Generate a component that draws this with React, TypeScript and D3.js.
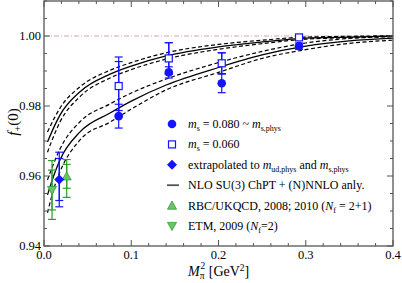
import React from 'react';
import * as d3 from 'd3';

// lattice points (m_s = 0.080 ~ m_s,phys and m_s = 0.060)
const mpi2 = [0.0856, 0.143, 0.2037, 0.2923];
const fCircle = [0.9771, 0.9896, 0.9865, 0.9971];
const errCircle = [0.0034, 0.0016, 0.0027, 0.0009];
const fSquare = [0.9857, 0.9936, 0.9922, 0.9996];
const errSquare = [0.0083, 0.0045, 0.003, 0.0008];
const errSquareStat = [0.007, 0.0045, 0.003, 0.0008];

// extrapolated point and other collaborations
const extrap = { x: 0.0175, y: 0.959, stat: 0.006, lo: 0.0078, hi: 0.0078 };
const rbc = { x: 0.026, y: 0.9599, stat: 0.0034, lo: 0.006, hi: 0.0048 };
const etm = { x: 0.0092, y: 0.956, stat: 0.0057, lo: 0.0084, hi: 0.0084 };

// fit curves
const curveX = [0.004, 0.0126, 0.0183, 0.0413, 0.0757, 0.1, 0.14, 0.2, 0.25, 0.3, 0.35, 0.4];
const upperMid = [0.9697, 0.9746, 0.9774, 0.9841, 0.9891, 0.9914, 0.9943, 0.9969, 0.9983, 0.9994, 0.9997, 1.0];
const upperHi = [0.9726, 0.9769, 0.9794, 0.9855, 0.9902, 0.9924, 0.9952, 0.9976, 0.9988, 0.9997, 0.9999, 1.0001];
const upperLo = [0.9668, 0.9723, 0.9754, 0.9827, 0.988, 0.9904, 0.9934, 0.9962, 0.9978, 0.9991, 0.9995, 0.9999];
const lowerMid = [0.9546, 0.9611, 0.9646, 0.9726, 0.978, 0.9814, 0.986, 0.991, 0.9946, 0.9971, 0.9986, 0.9994];
const lowerHi = [0.9589, 0.9645, 0.9677, 0.9755, 0.9806, 0.9837, 0.9877, 0.9924, 0.9956, 0.998, 0.9993, 0.9998];
const lowerLo = [0.9495, 0.9574, 0.9612, 0.9703, 0.9754, 0.9791, 0.9846, 0.9896, 0.9936, 0.9961, 0.9979, 0.9988];

const xTicks = [0.0, 0.1, 0.2, 0.3, 0.4];
const yTicks = [0.94, 0.96, 0.98, 1.0];

const W = 402;
const H = 283;
const margin = { top: 1, right: 9, bottom: 37, left: 44 };

const BLUE = '#1414ff';
const GREEN = '#2e9e2e';
const GREEN_FILL = '#6cc36c';
const FRAME = '#555';
const FONT = "'Liberation Serif', 'Times New Roman', serif";

export default function App() {
  const x = d3.scaleLinear().domain([0, 0.4]).range([margin.left, W - margin.right]);
  const y = d3.scaleLinear().domain([0.94, 1.01]).range([H - margin.bottom, margin.top]);

  const line = d3
    .line<number>()
    .x((d, i) => x(curveX[i]))
    .y(d => y(d))
    .curve(d3.curveMonotoneX);

  const xMinor = d3.range(0, 0.4001, 0.02);
  const yMinor = d3.range(0.94, 1.0101, 0.005);

  const errBar = (cx: number, lo: number, hi: number, color: string, cap = 4) => (
    <g stroke={color} strokeWidth={1.2}>
      <line x1={x(cx)} x2={x(cx)} y1={y(lo)} y2={y(hi)} />
      <line x1={x(cx) - cap} x2={x(cx) + cap} y1={y(lo)} y2={y(lo)} />
      <line x1={x(cx) - cap} x2={x(cx) + cap} y1={y(hi)} y2={y(hi)} />
    </g>
  );

  const tri = (cx: number, cy: number, s: number, up: boolean) =>
    up
      ? `M${cx},${cy - s}L${cx + s},${cy + s * 0.8}L${cx - s},${cy + s * 0.8}Z`
      : `M${cx},${cy + s}L${cx + s},${cy - s * 0.8}L${cx - s},${cy - s * 0.8}Z`;

  const diamond = (cx: number, cy: number, s: number) =>
    `M${cx},${cy - s}L${cx + s},${cy}L${cx},${cy + s}L${cx - s},${cy}Z`;

  const legendX = 172;
  const textX = 188;
  const rowY = (i: number) => 124 + i * 20.4;

  const x0 = margin.left;
  const x1 = W - margin.right;
  const y0 = H - margin.bottom;
  const y1 = margin.top;

  return (
    <svg width={W} height={H} style={{ position: 'absolute', left: 0, top: 0, fontFamily: FONT }}>
      <rect width={W} height={H} fill="#fff" />

      {/* reference line at 1 */}
      <line x1={x0} x2={x1} y1={y(1)} y2={y(1)} stroke="#d49a9a" strokeWidth={0.9} strokeDasharray="5,2,1,2" />

      {/* fit curves */}
      <g fill="none" stroke="#000">
        <path d={line(upperMid) || ''} strokeWidth={1.3} />
        <path d={line(upperHi) || ''} strokeWidth={1.2} strokeDasharray="4,2.5" />
        <path d={line(upperLo) || ''} strokeWidth={1.2} strokeDasharray="4,2.5" />
        <path d={line(lowerMid) || ''} strokeWidth={1.3} />
        <path d={line(lowerHi) || ''} strokeWidth={1.2} strokeDasharray="4,2.5" />
        <path d={line(lowerLo) || ''} strokeWidth={1.2} strokeDasharray="4,2.5" />
      </g>

      {/* m_s = 0.060 squares */}
      {mpi2.map((m, i) => (
        <g key={'s' + i}>
          {errBar(m, fSquare[i] - errSquare[i], fSquare[i] + errSquare[i], BLUE)}
          {errBar(m, fSquare[i] - errSquareStat[i], fSquare[i] + errSquareStat[i], BLUE)}
          <rect x={x(m) - 3.5} y={y(fSquare[i]) - 3.5} width={7} height={7} fill="#fff" stroke={BLUE} strokeWidth={1.2} />
        </g>
      ))}

      {/* m_s = 0.080 circles */}
      {mpi2.map((m, i) => (
        <g key={'c' + i}>
          {errBar(m, fCircle[i] - errCircle[i], fCircle[i] + errCircle[i], BLUE)}
          <circle cx={x(m)} cy={y(fCircle[i])} r={4.3} fill={BLUE} />
        </g>
      ))}

      {/* ETM */}
      {errBar(etm.x, etm.y - etm.lo, etm.y + etm.hi, GREEN)}
      {errBar(etm.x, etm.y - etm.stat, etm.y + etm.stat, GREEN)}
      <path d={tri(x(etm.x), y(etm.y), 4.5, false)} fill={GREEN_FILL} stroke={GREEN} strokeWidth={0.8} />

      {/* RBC/UKQCD */}
      {errBar(rbc.x, rbc.y - rbc.lo, rbc.y + rbc.hi, GREEN)}
      {errBar(rbc.x, rbc.y - rbc.stat, rbc.y + rbc.stat, GREEN)}
      <path d={tri(x(rbc.x), y(rbc.y), 4.5, true)} fill={GREEN_FILL} stroke={GREEN} strokeWidth={0.8} />

      {/* extrapolated */}
      {errBar(extrap.x, extrap.y - extrap.lo, extrap.y + extrap.hi, BLUE)}
      {errBar(extrap.x, extrap.y - extrap.stat, extrap.y + extrap.stat, BLUE)}
      <path d={diamond(x(extrap.x), y(extrap.y), 5)} fill={BLUE} />

      {/* frame and ticks */}
      <rect x={x0} y={y1} width={x1 - x0} height={y0 - y1} fill="none" stroke={FRAME} strokeWidth={1.3} />
      <g stroke={FRAME} strokeWidth={1}>
        {xMinor.map((t, i) => {
          const len = i % 5 === 0 ? 6 : 3;
          return (
            <g key={'xt' + i}>
              <line x1={x(t)} x2={x(t)} y1={y0} y2={y0 - len} />
              <line x1={x(t)} x2={x(t)} y1={y1} y2={y1 + len} />
            </g>
          );
        })}
        {yMinor.map((t, i) => {
          const len = i % 4 === 0 ? 6 : 3;
          return (
            <g key={'yt' + i}>
              <line x1={x0} x2={x0 + len} y1={y(t)} y2={y(t)} />
              <line x1={x1} x2={x1 - len} y1={y(t)} y2={y(t)} />
            </g>
          );
        })}
      </g>

      {/* tick labels */}
      <g fontSize={12.5} fill="#000">
        {xTicks.map(t => (
          <text key={'xl' + t} x={x(t)} y={y0 + 13} textAnchor="middle">
            {t.toFixed(1)}
          </text>
        ))}
        {yTicks.map(t => (
          <text key={'yl' + t} x={x0 - 3} y={y(t) + 4} textAnchor="end">
            {t.toFixed(2)}
          </text>
        ))}
      </g>

      {/* axis titles */}
      <text x={188} y={276} fontSize={14}>
        <tspan fontStyle="italic">M</tspan>
        <tspan fontSize={9.5} dy={3}>π</tspan>
        <tspan fontSize={9.5} dx={-4} dy={-10}>2</tspan>
        <tspan dy={7}> [GeV</tspan>
        <tspan fontSize={9.5} dy={-5}>2</tspan>
        <tspan dy={5}>]</tspan>
      </text>
      <text transform="translate(18,122) rotate(-90)" textAnchor="middle" fontSize={15}>
        <tspan fontStyle="italic">f</tspan>
        <tspan fontSize={10} dy={3}>+</tspan>
        <tspan dy={-3}>(0)</tspan>
      </text>

      {/* legend */}
      <g fontSize={12} fill="#000">
        <circle cx={legendX} cy={rowY(0)} r={4.3} fill={BLUE} />
        <text x={textX} y={rowY(0) + 4}>
          <tspan fontStyle="italic">m</tspan>
          <tspan fontSize={8} dy={3}>s</tspan>
          <tspan dy={-3}> = 0.080 ~ </tspan>
          <tspan fontStyle="italic">m</tspan>
          <tspan fontSize={8} dy={3}>s,phys</tspan>
        </text>

        <rect x={legendX - 3.5} y={rowY(1) - 3.5} width={7} height={7} fill="#fff" stroke={BLUE} strokeWidth={1.2} />
        <text x={textX} y={rowY(1) + 4}>
          <tspan fontStyle="italic">m</tspan>
          <tspan fontSize={8} dy={3}>s</tspan>
          <tspan dy={-3}> = 0.060</tspan>
        </text>

        <path d={diamond(legendX, rowY(2), 5)} fill={BLUE} />
        <text x={textX} y={rowY(2) + 4}>
          <tspan>extrapolated to </tspan>
          <tspan fontStyle="italic">m</tspan>
          <tspan fontSize={8} dy={3}>ud,phys</tspan>
          <tspan dy={-3}> and </tspan>
          <tspan fontStyle="italic">m</tspan>
          <tspan fontSize={8} dy={3}>s,phys</tspan>
        </text>

        <line x1={legendX - 5} x2={legendX + 7} y1={rowY(3)} y2={rowY(3)} stroke="#555" strokeWidth={1.8} />
        <text x={textX} y={rowY(3) + 4}>NLO SU(3) ChPT +  (N)NNLO anly.</text>

        <path d={tri(legendX, rowY(4), 4.5, true)} fill={GREEN_FILL} stroke={GREEN} strokeWidth={0.8} />
        <text x={textX} y={rowY(4) + 4}>
          <tspan>RBC/UKQCD, 2008; 2010 (</tspan>
          <tspan fontStyle="italic">N</tspan>
          <tspan fontSize={8} dy={3}>f</tspan>
          <tspan dy={-3}> = 2+1)</tspan>
        </text>

        <path d={tri(legendX, rowY(5), 4.5, false)} fill={GREEN_FILL} stroke={GREEN} strokeWidth={0.8} />
        <text x={textX} y={rowY(5) + 4}>
          <tspan>ETM, 2009 (</tspan>
          <tspan fontStyle="italic">N</tspan>
          <tspan fontSize={8} dy={3}>f</tspan>
          <tspan dy={-3}>=2)</tspan>
        </text>
      </g>
    </svg>
  );
}
